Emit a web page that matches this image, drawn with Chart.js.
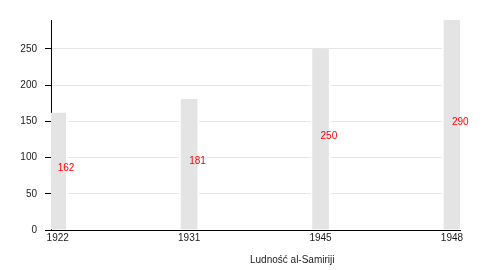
<!DOCTYPE html>
<html>
<head>
<meta charset="utf-8">
<script src="https://cdn.jsdelivr.net/npm/chart.js@4"></script>
<style>
  html, body { margin: 0; padding: 0; background: #fff; }
  #wrap { width: 500px; height: 270px; }
</style>
</head>
<body>
<div id="wrap"><canvas id="chart"></canvas></div>
<script>
const years      = ['1922', '1931', '1945', '1948'];
const population = [162, 181, 250, 290];
const yTicks     = [0, 50, 100, 150, 200, 250];
const axisTitle  = 'Ludność al-Samiriji';

Chart.defaults.font.family = "'Liberation Sans', Arial, sans-serif";
Chart.defaults.font.size = 10;
Chart.defaults.color = '#1a1a1a';

const ctx = document.getElementById('chart');

const chart = new Chart(ctx, {
    type: 'bar',
    data: {
        datasets: [{
            label: axisTitle,
            data: population.map((v, i) => ({ x: i, y: v })),
            backgroundColor: '#e4e4e4',
            borderColor: '#ffffff',
            borderWidth: { left: 2, right: 2, top: 0, bottom: 0 },
            barThickness: 20,
            clip: 0
        }]
    },
    options: {
        responsive: true,
        maintainAspectRatio: false,
        animation: false,
        layout: {
            padding: { left: 0, right: 40, top: 20, bottom: 0 }
        },
        plugins: {
            legend: { display: false },
            tooltip: { enabled: false }
        },
        scales: {
            x: {
                type: 'linear',
                offset: false,
                min: -0.051,
                max: 3.061,
                afterBuildTicks: (s) => {
                    s.ticks = years.map((y, i) => ({ value: i }));
                },
                afterFit: (s) => { s.height = 40; },
                grid: { display: false, tickLength: 0 },
                border: { display: true, color: '#000', width: 1 },
                ticks: {
                    padding: 2,
                    maxRotation: 0,
                    callback: (v) => years[v]
                }
            },
            y: {
                min: 0,
                max: 290,
                afterBuildTicks: (s) => {
                    s.ticks = yTicks.map(v => ({ value: v }));
                },
                afterFit: (s) => { s.width = 51; },
                grid: {
                    color: '#e6e6e6',
                    tickColor: '#000',
                    tickLength: 6
                },
                border: { display: true, color: '#000', width: 1 },
                ticks: { padding: 8 }
            }
        }
    },
    plugins: [{
        id: 'valueLabels',
        afterDatasetsDraw: function(chart) {
            const c = chart.ctx;
            const meta = chart.getDatasetMeta(0);
            c.save();
            c.font = "10px 'Liberation Sans', Arial, sans-serif";
            c.fillStyle = '#ff0000';
            c.textAlign = 'left';
            c.textBaseline = 'alphabetic';
            meta.data.forEach((bar, i) => {
                const midY = (bar.y + bar.base) / 2;
                c.fillText(String(population[i]), bar.x, midY);
            });
            c.restore();
        }
    }, {
        id: 'axisTitle',
        afterDraw: function(chart) {
            const c = chart.ctx;
            c.save();
            c.font = "10px 'Liberation Sans', Arial, sans-serif";
            c.fillStyle = '#1a1a1a';
            c.textAlign = 'left';
            c.textBaseline = 'middle';
            c.fillText(axisTitle, 250, 260);
            c.restore();
        }
    }]
});
</script>
</body>
</html>
